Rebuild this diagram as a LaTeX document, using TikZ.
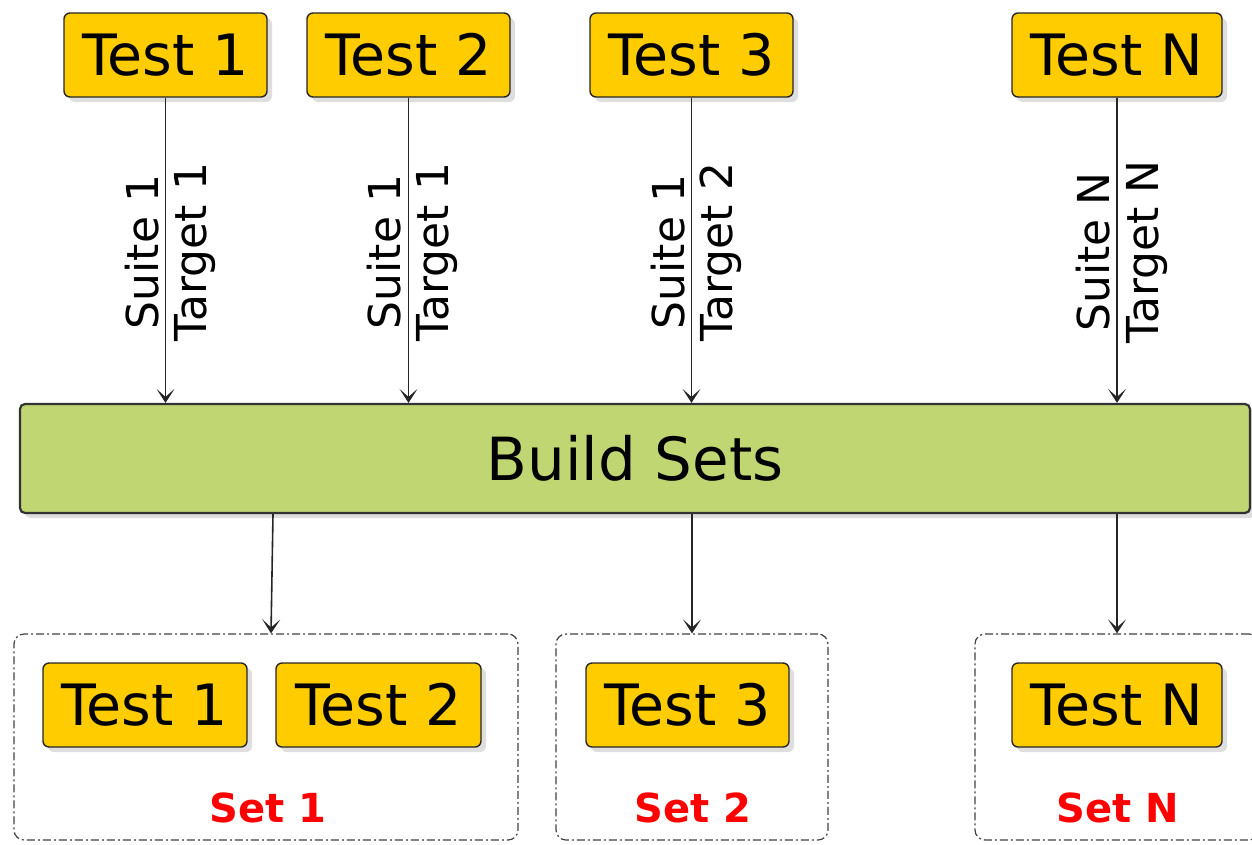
\documentclass[tikz,border=0pt]{standalone}
\usepackage{fontspec}
\setmainfont{DejaVu Sans}
\usetikzlibrary{shadows,arrows.meta}
\definecolor{testyellow}{HTML}{FFCC00}
\definecolor{buildgreen}{HTML}{BFD673}
\definecolor{setred}{HTML}{FF0000}
\begin{document}
\begin{tikzpicture}[x=1pt,y=-1pt,
  testbox/.style={draw=black!85, line width=1.4pt, fill=testyellow, rounded corners=6pt,
    minimum height=84pt, inner sep=0pt, font=\fontsize{57}{60}\selectfont,
    drop shadow={shadow xshift=5pt, shadow yshift=-5pt, fill=black!13, opacity=1}},
  buildbox/.style={draw=black!80, line width=2.2pt, fill=buildgreen, rounded corners=5pt,
    minimum width=1230pt, minimum height=109pt, inner sep=0pt, font=\fontsize{59.5}{62}\selectfont,
    drop shadow={shadow xshift=5pt, shadow yshift=-5pt, fill=black!13, opacity=1}},
  setbox/.style={draw=black!75, line width=1.2pt, dash pattern=on 8pt off 3pt on 2pt off 3pt,
    rounded corners=10pt, inner sep=0pt, minimum height=206pt},
  setlbl/.style={text=setred, font=\fontsize{40}{44}\selectfont\bfseries, inner sep=0pt},
  lbl/.style={rotate=90, inner sep=0pt, font=\fontsize{44}{48}\selectfont},
  arr/.style={draw=black!85, line width=1.6pt, -{Stealth[length=14pt,width=18pt,inset=8pt]}}
]
\clip (0,0) rectangle (1252,844);
\useasboundingbox (0,0) rectangle (1252,844);

% set boxes (behind)
\node[setbox, minimum width=504pt] (set1) at (266,737) {};
\node[setbox, minimum width=272pt] (set2) at (692,737) {};
\node[setbox, minimum width=284pt] (setN) at (1117,737) {};

% top tests
\node[testbox, minimum width=203pt] (t1) at (165.5,55) {Test 1};
\node[testbox, minimum width=203pt] (t2) at (408.5,55) {Test 2};
\node[testbox, minimum width=203pt] (t3) at (691.5,55) {Test 3};
\node[testbox, minimum width=210pt] (tN) at (1117,55) {Test N};

% build sets
\node[buildbox] (build) at (635,458.5) {Build Sets};

% arrows to build
\draw[arr] (t1.south) -- (t1.south |- build.north);
\draw[arr] (t2.south) -- (t2.south |- build.north);
\draw[arr] (t3.south) -- (t3.south |- build.north);
\draw[arr] (tN.south) -- (tN.south |- build.north);

% labels
\node[lbl, anchor=base] (s1) at (158,252) {Suite 1};
\node[lbl, anchor=north] (g1) at (174,252) {Target 1};
\node[lbl, anchor=base] (s2) at (400,252) {Suite 1};
\node[lbl, anchor=north] (g2) at (416,252) {Target 1};
\node[lbl, anchor=base] (s3) at (684,252) {Suite 1};
\node[lbl, anchor=north] (g3) at (700,252) {Target 2};
\node[lbl, anchor=base] (sN) at (1109,252) {Suite N};
\node[lbl, anchor=north] (gN) at (1126,252) {Target N};

% arrows to sets
\draw[arr] ([xshift=7pt]build.south -| set1.north) -- ([xshift=5pt]set1.north);
\draw[arr] (build.south -| set2.north) -- (set2.north);
\draw[arr] (build.south -| setN.north) -- (setN.north);

% bottom tests
\node[testbox, minimum width=204pt] (b1) at (145,705) {Test 1};
\node[testbox, minimum width=205pt] (b2) at (378.5,705) {Test 2};
\node[testbox, minimum width=203pt] (b3) at (687.5,705) {Test 3};
\node[testbox, minimum width=210pt] (bN) at (1117,705) {Test N};

% set labels
\node[setlbl] (l1) at (268,808) {Set 1};
\node[setlbl] (l2) at (693,808) {Set 2};
\node[setlbl] (lN) at (1118,808) {Set N};
\end{tikzpicture}
\end{document}
